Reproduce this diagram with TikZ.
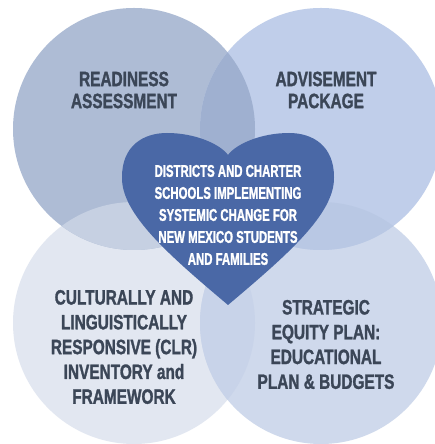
\documentclass[tikz,border=0pt]{standalone}
\usepackage{fontspec}
\setmainfont{Liberation Sans}
\newfontfamily\sidefont{Liberation Sans Bold}[FakeStretch=0.74, FakeBold=1.3]
\newfontfamily\heartfont{Liberation Sans Bold}[FakeStretch=0.67, FakeBold=1.3]
\definecolor{cTL}{HTML}{AEBCD5}
\definecolor{cTR}{HTML}{C0CEEA}
\definecolor{cBL}{HTML}{E2E7F1}
\definecolor{cBR}{HTML}{CFD9EC}
\definecolor{cTLTR}{HTML}{9FB0D0}
\definecolor{cTLBL}{HTML}{C6D0E2}
\definecolor{cTRBR}{HTML}{B9C8E4}
\definecolor{cBLBR}{HTML}{C8D3E9}
\definecolor{heartblue}{HTML}{4A68A6}
\definecolor{labeltext}{HTML}{3B4657}
\tikzset{
  ring/.style={circle, inner sep=0pt, minimum size=242pt, draw=none},
  sidelabel/.style={align=center, text=labeltext, font=\sidefont\fontsize{20.8}{22}\selectfont},
  lowlabel/.style={align=center, text=labeltext, font=\sidefont\fontsize{20.8}{24.8}\selectfont},
  heartlabel/.style={align=center, text=white, font=\heartfont\fontsize{17}{22}\selectfont}
}
\begin{document}
\begin{tikzpicture}[x=1pt,y=1pt]
\useasboundingbox (0,0) rectangle (435,444);
\fill[white] (0,0) rectangle (435,444);
% circles
\node[ring, fill=cBL] (bl) at (134,121) {};
\node[ring, fill=cBR] (br) at (321,121) {};
\node[ring, fill=cTL] (tl) at (134,315) {};
\node[ring, fill=cTR] (tr) at (321,315) {};
% overlaps
\begin{scope}
  \clip (134,315) circle[radius=121];
  \fill[cTLTR] (321,315) circle[radius=121];
  \fill[cTLBL] (134,121) circle[radius=121];
\end{scope}
\begin{scope}
  \clip (321,121) circle[radius=121];
  \fill[cTRBR] (321,315) circle[radius=121];
  \fill[cBLBR] (134,121) circle[radius=121];
\end{scope}
% heart
\coordinate (hp) at (228,139);
\coordinate (hn) at (228,289);
\path[fill=heartblue] (hp)
  .. controls (170,188) and (121,230) .. (122,267)
  .. controls (122,298) and (143,311) .. (167,311)
  .. controls (195,311) and (220,300) .. (hn)
  .. controls (236,300) and (261,311) .. (289,311)
  .. controls (313,311) and (334,298) .. (334,267)
  .. controls (335,230) and (286,188) .. (hp) -- cycle;
% labels
\node[sidelabel] (ra) at (124,354) {READINESS\\ASSESSMENT};
\node[sidelabel] (ap) at (326,354) {ADVISEMENT\\PACKAGE};
\node[heartlabel] (dc) at (228,229) {DISTRICTS AND CHARTER\\SCHOOLS IMPLEMENTING\\SYSTEMIC CHANGE FOR\\NEW MEXICO STUDENTS\\AND FAMILIES};
\node[lowlabel] (clr) at (124,97) {CULTURALLY AND\\LINGUISTICALLY\\RESPONSIVE (CLR)\\INVENTORY and\\FRAMEWORK};
\node[lowlabel] (sep) at (326,99.5) {STRATEGIC\\EQUITY PLAN:\\EDUCATIONAL\\PLAN \& BUDGETS};
\end{tikzpicture}
\end{document}
